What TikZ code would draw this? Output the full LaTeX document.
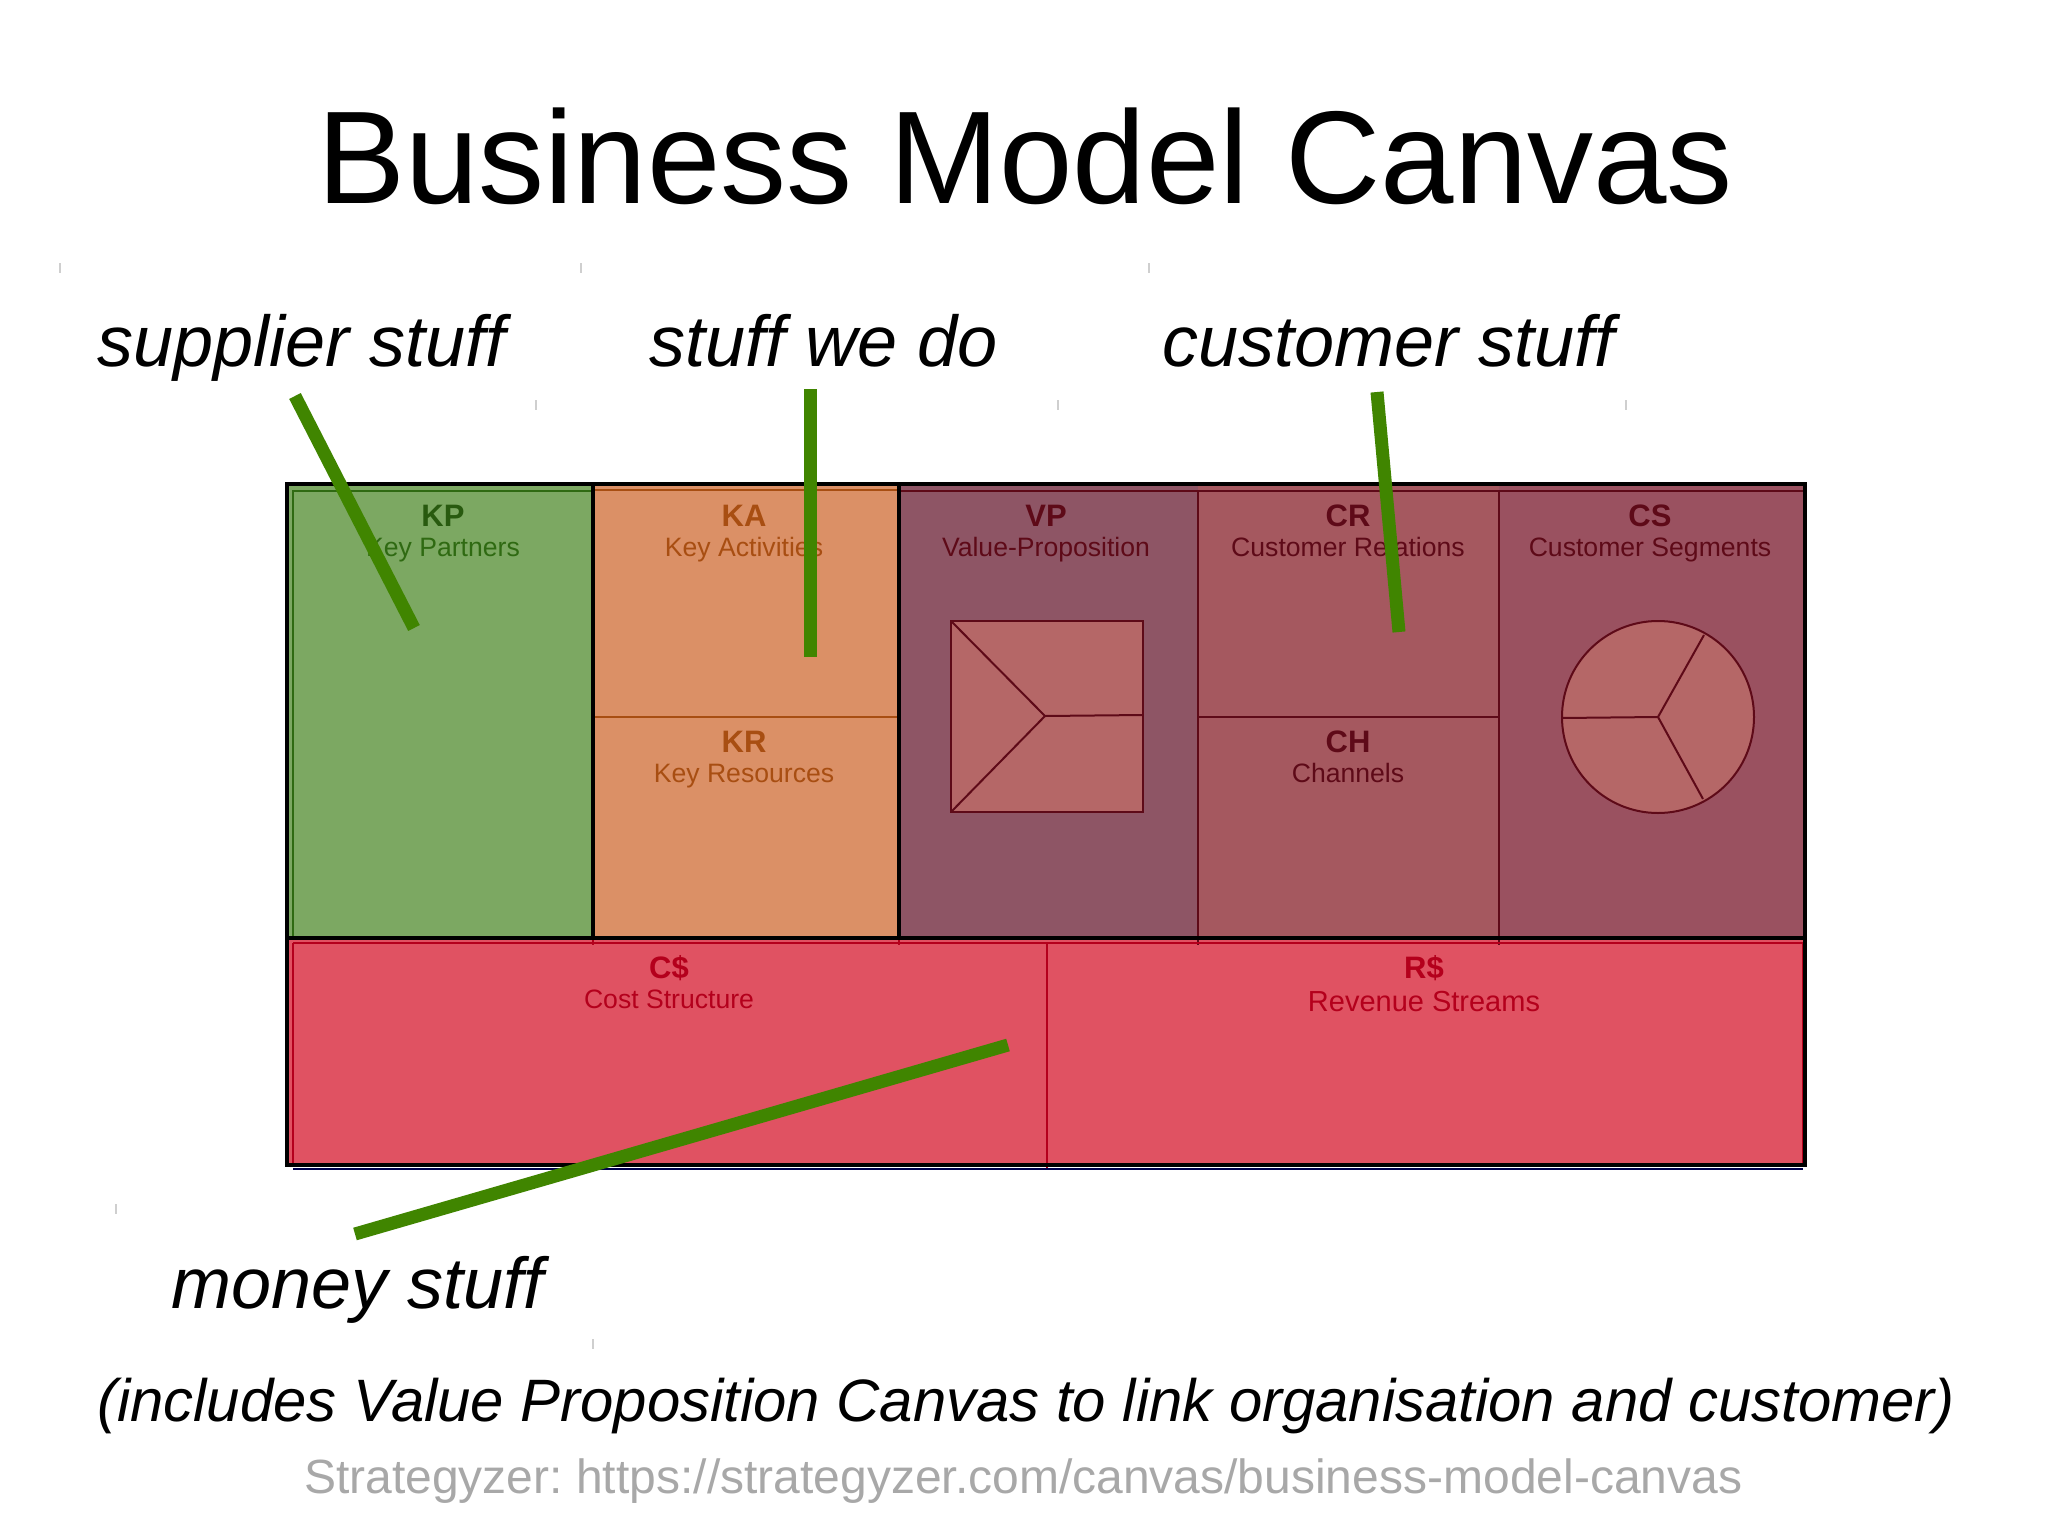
\documentclass[tikz,border=0pt]{standalone}
\usepackage{fontspec}
\setmainfont{Liberation Sans}
\frenchspacing
\definecolor{cgreen}{HTML}{7CA862}
\definecolor{cgreenD}{HTML}{2F6A12}
\definecolor{corange}{HTML}{DB9066}
\definecolor{corangeD}{HTML}{A84E12}
\definecolor{cvp}{HTML}{8E5565}
\definecolor{ccr}{HTML}{A5585F}
\definecolor{ccs}{HTML}{9A5160}
\definecolor{cred}{HTML}{E05262}
\definecolor{credD}{HTML}{B4001C}
\definecolor{cdark}{HTML}{5E0A18}
\definecolor{cinner}{HTML}{B56767}
\definecolor{cline}{HTML}{408500}
\definecolor{cgrey}{HTML}{A8A8A8}
\definecolor{ctick}{HTML}{CFCFCF}
\tikzset{
  big/.style={inner sep=0pt,font=\fontsize{72}{80}\selectfont\itshape,anchor=base west},
  abbr/.style={inner sep=0pt,font=\fontsize{31}{34}\selectfont\bfseries,anchor=base},
  sub/.style={inner sep=0pt,font=\fontsize{26.6}{30}\selectfont,anchor=base},
  pointer/.style={line width=13pt,cline},
  heavy/.style={line width=3.8pt,black},
  thin/.style={line width=2pt,cdark},
  tick/.style={line width=1.5pt,ctick}
}
\begin{document}
\begin{tikzpicture}[x=1pt,y=-1pt]
\useasboundingbox (0,0) rectangle (2048,1536);
\fill[white] (0,0) rectangle (2048,1536);
% title
\node[inner sep=0pt,anchor=base west,font=\fontsize{132}{140}\selectfont] (title) at (317,203) {Business Model Canvas};
% faint ticks
\foreach \px/\py in {60/268,581/268,1149/268,536/405,1058/405,1626/405,116/1209,593/1344}
  \draw[tick] (\px,\py-5) -- (\px,\py+5);
% fills
\fill[cgreen] (287,484) rectangle (593,938);
\fill[corange] (593,484) rectangle (899,938);
\fill[cvp] (899,484) rectangle (1198,938);
\fill[ccr] (1198,484) rectangle (1499,938);
\fill[ccs] (1499,484) rectangle (1805,938);
\fill[cred] (287,938) rectangle (1805,1165);
% inner frames
\draw[line width=2pt,cgreenD] (293,938) -- (293,491) -- (593,491);
\draw[line width=2.2pt,corangeD] (593,490) -- (899,490);
\draw[line width=2pt,corangeD] (593,717) -- (899,717);
\draw[thin] (899,491) -- (1803,491);
\draw[thin] (1198,491) -- (1198,945);
\draw[thin] (1499,491) -- (1499,945);
\draw[line width=2.2pt,cdark] (1198,717) -- (1499,717);
\draw[line width=2.4pt,credD] (293,943) -- (1803,943);
\draw[line width=2pt,credD] (293,943) -- (293,1165);
\draw[line width=2pt,credD] (1047,943) -- (1047,1169);
\draw[line width=2pt,credD] (593,938) -- (593,945);
\draw[line width=2pt,credD] (899,938) -- (899,945);
\draw[line width=2pt,credD] (1803,943) -- (1803,1165);
\draw[line width=2pt,black!70!blue] (293,1169) -- (1803,1169);
% value map
\coordinate (vc) at (1045,716);
\draw[thin,fill=cinner] (951,621) rectangle (1143,812);
\draw[thin] (951,621) -- (vc) -- (951,812);
\draw[thin] (vc) -- (1143,715);
% customer profile
\coordinate (cc) at (1658,717);
\draw[thin,fill=cinner] (cc) ellipse [x radius=96,y radius=96];
\draw[thin] (1562,718) -- (cc) -- (1704,635);
\draw[thin] (cc) -- (1703,799);
% black grid
\draw[heavy] (287,1165) -- (287,484) -- (1805,484) -- (1805,1165) -- cycle;
\draw[heavy] (287,938) -- (1805,938);
\draw[heavy] (593,484) -- (593,938);
\draw[heavy] (899,484) -- (899,938);
% cell texts
\node[abbr,text=cgreenD!85!black] (kp) at (443,526) {KP};
\node[sub,text=cgreenD] (kpt) at (443,556) {Key Partners};
\node[abbr,text=corangeD] (ka) at (744,526) {KA};
\node[sub,text=corangeD] (kat) at (744,556) {Key Activities};
\node[abbr,text=corangeD] (kr) at (744,752) {KR};
\node[sub,text=corangeD] (krt) at (744,782) {Key Resources};
\node[abbr,text=cdark] (vp) at (1046,526) {VP};
\node[sub,text=cdark] (vpt) at (1046,556) {Value-Proposition};
\node[abbr,text=cdark] (cr) at (1348,526) {CR};
\node[sub,text=cdark] (crt) at (1348,556) {Customer Relations};
\node[abbr,text=cdark] (ch) at (1348,752) {CH};
\node[sub,text=cdark] (cht) at (1348,782) {Channels};
\node[abbr,text=cdark] (cs) at (1650,526) {CS};
\node[sub,text=cdark] (cst) at (1650,556) {Customer Segments};
\node[abbr,text=credD] (cost) at (669,978) {C\$};
\node[sub,text=credD] (costt) at (669,1008) {Cost Structure};
\node[abbr,text=credD] (rev) at (1424,978) {R\$};
\node[sub,font=\fontsize{29}{32}\selectfont,text=credD] (revt) at (1424,1011) {Revenue Streams};
% large labels
\node[big] (lsup) at (97,366) {supplier stuff};
\node[big] (lwe) at (649,366) {stuff we do};
\node[big] (lcus) at (1162,366) {customer stuff};
\node[big] (lmon) at (171,1308) {money stuff};
\node[inner sep=0pt,anchor=base west,font=\fontsize{59.85}{66}\selectfont\itshape] (incl) at (97,1421) {(includes Value Proposition Canvas to link organisation and customer)};
\node[inner sep=0pt,anchor=base west,font=\fontsize{48}{54}\selectfont,text=cgrey] (src) at (304,1493) {Strategyzer: https://strategyzer.com/canvas/business-model-canvas};
% pointers
\coordinate (a1) at (295,396); \coordinate (a2) at (414,628);
\coordinate (b1) at (810,389); \coordinate (b2) at (810,657);
\coordinate (c1) at (1377,392); \coordinate (c2) at (1399,632);
\coordinate (d1) at (355,1234); \coordinate (d2) at (1008,1045);
\draw[pointer] (a1) -- (a2);
\draw[pointer] (b1) -- (b2);
\draw[pointer] (c1) -- (c2);
\draw[pointer] (d1) -- (d2);
\end{tikzpicture}
\end{document}
